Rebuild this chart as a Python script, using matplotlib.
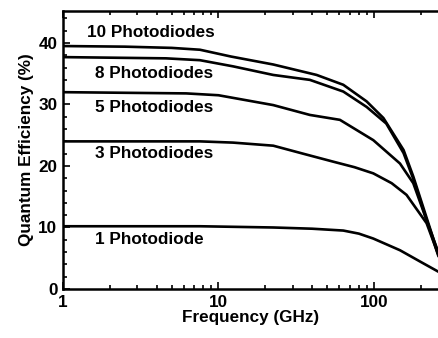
import numpy as np
import matplotlib.pyplot as plt
from matplotlib.ticker import LogLocator, MultipleLocator, FixedFormatter, FixedLocator

plt.rcParams['font.family'] = ['Liberation Sans', 'DejaVu Sans']
plt.rcParams['font.weight'] = 'bold'

# curves (frequency in GHz, efficiency in %)
f10 = [1, 2.5, 5, 7.6, 12, 22.5, 42.8, 63.5, 89.7, 115, 155, 179, 260]
qe10 = [39.5, 39.4, 39.2, 38.9, 37.8, 36.5, 34.8, 33.2, 30.5, 27.8, 22.6, 18.3, 5.6]
f8 = [1, 4.6, 7.6, 12.4, 22.5, 38.7, 63.5, 89.7, 120, 155, 179, 260]
qe8 = [37.7, 37.5, 37.2, 36.2, 34.8, 34.0, 32.1, 29.6, 26.9, 22.1, 17.9, 5.3]
f5 = [1, 6.2, 10, 22.5, 38.7, 60.4, 99, 147, 179, 215, 260]
qe5 = [32.0, 31.8, 31.5, 29.9, 28.3, 27.5, 24.2, 20.4, 17.2, 11.6, 5.9]
f3 = [1, 7.6, 12.4, 22.5, 35, 54.7, 75, 99, 130, 162, 218, 260]
qe3 = [24.0, 24.0, 23.8, 23.3, 22.0, 20.7, 19.8, 18.8, 17.2, 15.3, 10.7, 5.5]
f1 = [1, 7.6, 22.5, 40, 63.5, 80, 99, 147, 200, 260]
qe1 = [10.2, 10.2, 10.0, 9.8, 9.5, 9.0, 8.2, 6.3, 4.4, 2.8]

labels = ['10 Photodiodes', '8 Photodiodes', '5 Photodiodes', '3 Photodiodes', '1 Photodiode']
label_x = [1.42, 1.60, 1.60, 1.60, 1.60]
label_y = [41.7, 35.1, 29.5, 22.1, 8.1]

fig = plt.figure(figsize=(4.39, 3.38), dpi=100)
ax = fig.add_axes([0.1435, 0.145, 0.8565, 0.8225])

for f, q in [(f10, qe10), (f8, qe8), (f5, qe5), (f3, qe3), (f1, qe1)]:
    ax.plot(f, q, color='black', lw=1.9, solid_joinstyle='round', solid_capstyle='round')

for t, x, y in zip(labels, label_x, label_y):
    ax.text(x, y, t, fontsize=12.3, fontweight='bold', va='center', ha='left')

ax.set_xscale('log')
ax.set_xlim(1, 262)
ax.set_ylim(0, 45.2)
ax.xaxis.set_major_locator(FixedLocator([1, 10, 100]))
ax.xaxis.set_major_formatter(FixedFormatter(['1', '10', '100']))
ax.xaxis.set_minor_locator(LogLocator(base=10, subs=np.arange(2, 10), numticks=10))
ax.yaxis.set_major_locator(MultipleLocator(10))
ax.yaxis.set_minor_locator(MultipleLocator(2))

ax.tick_params(which='both', direction='in', top=True, right=False, labelsize=12.3, width=1.2)
ax.tick_params(which='major', length=5, pad=4)
ax.tick_params(which='minor', length=3)
for lab in ax.get_xticklabels() + ax.get_yticklabels():
    lab.set_fontweight('bold')

for s in ['left', 'bottom', 'top']:
    ax.spines[s].set_linewidth(1.8)
ax.spines['right'].set_visible(False)

ax.set_xlabel('Frequency (GHz)', fontsize=12.3, fontweight='bold', labelpad=0)
ax.set_ylabel('Quantum Efficiency (%)', fontsize=12.3, fontweight='bold', labelpad=3)

fig.savefig('out.png', dpi=100)
